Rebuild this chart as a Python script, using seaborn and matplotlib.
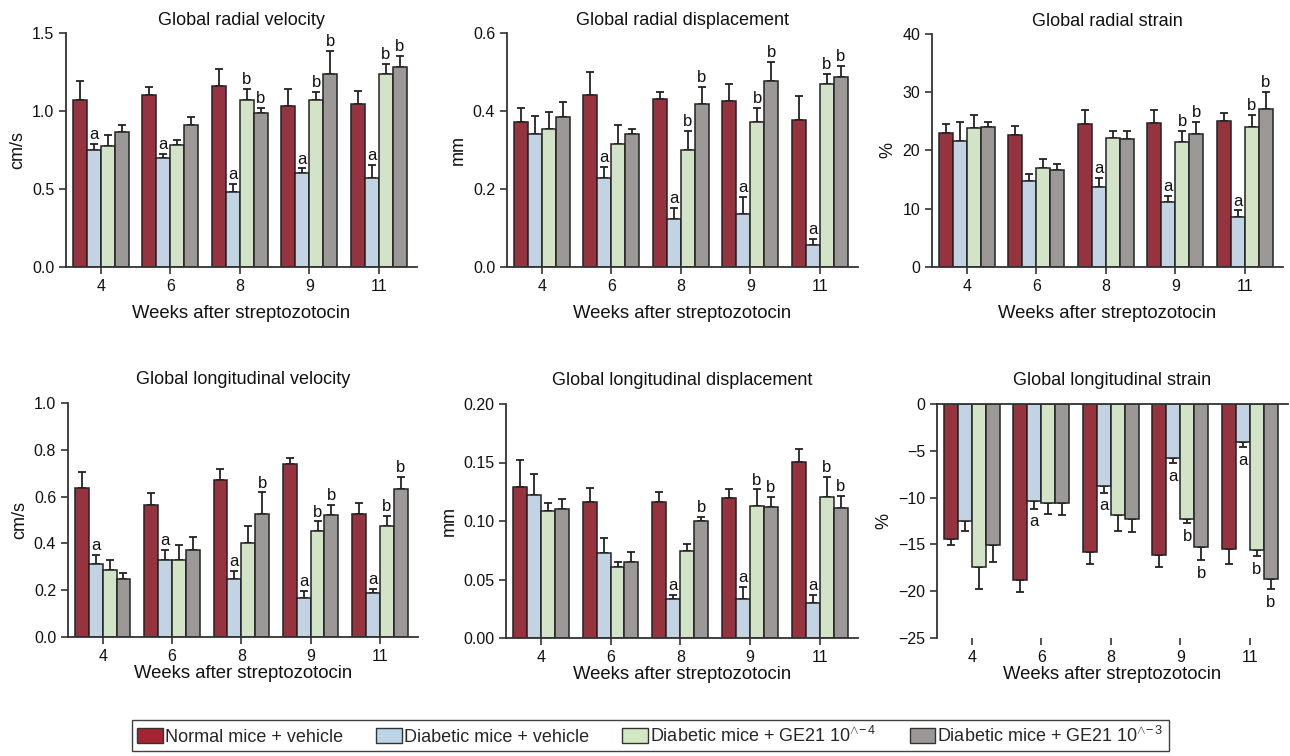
import numpy as np
import pandas as pd
import matplotlib
matplotlib.use("Agg")
import matplotlib.pyplot as plt
import seaborn as sns
from matplotlib.patches import Patch

sns.set_style("ticks")
plt.rcParams['font.family'] = ['Liberation Sans', 'DejaVu Sans']
plt.rcParams['mathtext.fontset'] = 'custom'
plt.rcParams['mathtext.rm'] = 'Liberation Sans'
plt.rcParams['mathtext.it'] = 'Liberation Sans'

weeks = ["4", "6", "8", "9", "11"]
groups = ["Normal mice + vehicle", "Diabetic mice + vehicle",
          "Diabetic mice + GE21 10^-4", "Diabetic mice + GE21 10^-3"]
legend_labels = ["Normal mice + vehicle", "Diabetic mice + vehicle",
                 r"Diabetic mice + GE21 10$^{\wedge\!-4}$", r"Diabetic mice + GE21 10$^{\wedge\!-3}$"]
colors = ["#A52432", "#BCD5E8", "#D2E8C2", "#9C9896"]

# ---- Global radial velocity (cm/s)
rv_mean = [[1.07, 1.10, 1.16, 1.035, 1.045],
           [0.75, 0.70, 0.48, 0.60, 0.57],
           [0.775, 0.785, 1.07, 1.07, 1.235],
           [0.865, 0.91, 0.99, 1.24, 1.28]]
rv_err = [[0.12, 0.055, 0.11, 0.105, 0.085],
          [0.04, 0.027, 0.053, 0.032, 0.087],
          [0.072, 0.032, 0.073, 0.05, 0.066],
          [0.045, 0.05, 0.03, 0.145, 0.075]]
rv_let = [["", "", "", "", ""], ["a", "a", "a", "a", "a"],
          ["", "", "b", "b", "b"], ["", "", "b", "b", "b"]]

# ---- Global radial displacement (mm)
rd_mean = [[0.373, 0.440, 0.431, 0.425, 0.378],
           [0.340, 0.228, 0.123, 0.135, 0.056],
           [0.355, 0.315, 0.300, 0.373, 0.468],
           [0.384, 0.342, 0.417, 0.476, 0.487]]
rd_err = [[0.034, 0.061, 0.019, 0.043, 0.060],
          [0.047, 0.029, 0.028, 0.045, 0.016],
          [0.042, 0.048, 0.049, 0.034, 0.026],
          [0.038, 0.013, 0.044, 0.049, 0.028]]
rd_let = [["", "", "", "", ""], ["", "a", "a", "a", "a"],
          ["", "", "b", "b", "b"], ["", "", "b", "b", "b"]]

# ---- Global radial strain (%)
rs_mean = [[23.0, 22.6, 24.5, 24.7, 25.0],
           [21.7, 14.7, 13.8, 11.1, 8.6],
           [23.9, 17.0, 22.1, 21.4, 24.0],
           [24.0, 16.6, 22.0, 22.9, 27.1]]
rs_err = [[1.6, 1.6, 2.4, 2.2, 1.5],
          [3.2, 1.3, 1.5, 1.1, 1.1],
          [2.2, 1.5, 1.2, 1.9, 2.1],
          [0.9, 1.0, 1.3, 2.0, 3.0]]
rs_let = [["", "", "", "", ""], ["", "", "a", "a", "a"],
          ["", "", "", "b", "b"], ["", "", "", "b", "b"]]

# ---- Global longitudinal velocity (cm/s)
lv_mean = [[0.635, 0.565, 0.672, 0.740, 0.527],
           [0.310, 0.327, 0.246, 0.166, 0.189],
           [0.286, 0.330, 0.402, 0.455, 0.476],
           [0.246, 0.371, 0.527, 0.523, 0.631]]
lv_err = [[0.07, 0.049, 0.047, 0.024, 0.045],
          [0.042, 0.044, 0.035, 0.029, 0.018],
          [0.044, 0.062, 0.072, 0.039, 0.041],
          [0.027, 0.058, 0.091, 0.041, 0.052]]
lv_let = [["", "", "", "", ""], ["a", "a", "a", "a", "a"],
          ["", "", "", "b", "b"], ["", "", "b", "b", "b"]]

# ---- Global longitudinal displacement (mm)
ld_mean = [[0.129, 0.1165, 0.1165, 0.120, 0.1507],
           [0.1225, 0.0724, 0.0333, 0.0333, 0.030],
           [0.1085, 0.061, 0.0744, 0.1128, 0.1202],
           [0.1103, 0.0652, 0.100, 0.1123, 0.1114]]
ld_err = [[0.023, 0.0114, 0.0085, 0.007, 0.0106],
          [0.018, 0.0131, 0.0037, 0.0103, 0.007],
          [0.0069, 0.0037, 0.0059, 0.0142, 0.0171],
          [0.0088, 0.008, 0.0037, 0.0085, 0.0103]]
ld_let = [["", "", "", "", ""], ["", "", "a", "a", "a"],
          ["", "", "", "b", "b"], ["", "", "b", "b", "b"]]

# ---- Global longitudinal strain (%)
ls_mean = [[-14.46, -18.77, -15.85, -16.13, -15.53],
           [-12.54, -10.36, -8.80, -5.73, -4.10],
           [-17.38, -10.54, -11.86, -12.25, -15.63],
           [-15.03, -10.54, -12.25, -15.28, -18.66]]
ls_err = [[0.64, 1.28, 1.21, 1.25, 1.53],
          [1.06, 0.82, 0.67, 0.61, 0.46],
          [2.38, 1.21, 1.71, 0.46, 0.64],
          [1.81, 1.36, 1.43, 1.35, 1.07]]
ls_let = [["", "", "", "", ""], ["", "a", "a", "a", "a"],
          ["", "", "", "b", "b"], ["", "", "", "b", "b"]]

panels = [
    dict(title="Global radial velocity", ylabel="cm/s", mean=rv_mean, err=rv_err, let=rv_let,
         ylim=(0, 1.5), ticks=[0, 0.5, 1.0, 1.5], fmt="{:.1f}",
         box=(66, 417, 33, 267), tpad=6, lpad=8),
    dict(title="Global radial displacement", ylabel="mm", mean=rd_mean, err=rd_err, let=rd_let,
         ylim=(0, 0.6), ticks=[0, 0.2, 0.4, 0.6], fmt="{:.1f}",
         box=(507, 858, 33, 267), tpad=6, lpad=8),
    dict(title="Global radial strain", ylabel="%", mean=rs_mean, err=rs_err, let=rs_let,
         ylim=(0, 40), ticks=[0, 10, 20, 30, 40], fmt="{:.0f}",
         box=(932, 1283, 34, 267), tpad=6, lpad=8),
    dict(title="Global longitudinal velocity", ylabel="cm/s", mean=lv_mean, err=lv_err, let=lv_let,
         ylim=(0, 1.0), ticks=[0, 0.2, 0.4, 0.6, 0.8, 1.0], fmt="{:.1f}",
         box=(68, 418, 403, 637), tpad=14, lpad=1),
    dict(title="Global longitudinal displacement", ylabel="mm", mean=ld_mean, err=ld_err, let=ld_let,
         ylim=(0, 0.20), ticks=[0, 0.05, 0.10, 0.15, 0.20], fmt="{:.2f}",
         box=(506, 858, 404, 638), tpad=14, lpad=1),
    dict(title="Global longitudinal strain", ylabel="%", mean=ls_mean, err=ls_err, let=ls_let,
         ylim=(-25, 0), ticks=[0, -5, -10, -15, -20, -25], fmt="{:.0f}",
         box=(937, 1288, 404, 638), tpad=14, lpad=1),
]

W, H = 1290, 756
fig = plt.figure(figsize=(W / 100, H / 100), dpi=100)
edge = "#222222"

for p in panels:
    l, r, t, b = p["box"]
    ax = fig.add_axes([l / W, (H - b) / H, (r - l) / W, (b - t) / H])
    rows = []
    for gi, g in enumerate(groups):
        for wi, w in enumerate(weeks):
            rows.append(dict(week=w, group=g, value=p["mean"][gi][wi],
                             err=p["err"][gi][wi], letter=p["let"][gi][wi]))
    df = pd.DataFrame(rows)
    sns.barplot(data=df, x="week", y="value", hue="group", order=weeks, hue_order=groups,
                palette=colors, errorbar=None, width=0.8, edgecolor=edge, linewidth=1.1,
                legend=False, ax=ax, zorder=2)
    bar_containers = list(ax.containers)
    span = p["ylim"][1] - p["ylim"][0]
    for gi, cont in enumerate(bar_containers):
        for wi, bar in enumerate(cont.patches):
            x = bar.get_x() + bar.get_width() / 2
            v = p["mean"][gi][wi]
            e = p["err"][gi][wi]
            neg = v < 0
            lo = [e] if neg else [0]
            hi = [0] if neg else [e]
            ax.errorbar([x], [v], yerr=[lo, hi], fmt="none", ecolor=edge,
                        elinewidth=1.3, capsize=3, capthick=1.3, zorder=1)
            let = p["let"][gi][wi]
            if let:
                if neg:
                    ax.text(x, v - e - 0.025 * span, let, ha="center", va="top",
                            fontsize=12, color="#111111")
                else:
                    ax.text(x, v + e + 0.008 * span, let, ha="center", va="bottom",
                            fontsize=12, color="#111111")
    ax.set_xlim(-0.5, 4.55)
    ax.set_ylim(*p["ylim"])
    ax.set_yticks(p["ticks"])
    ax.set_yticklabels([p["fmt"].format(v).replace("-", "\u2212") for v in p["ticks"]])
    ax.set_title(p["title"], fontsize=13, pad=p["tpad"], color="#111111")
    ax.set_xlabel("Weeks after streptozotocin", fontsize=13.3, labelpad=p["lpad"], color="#111111")
    ax.set_ylabel(p["ylabel"], fontsize=13, color="#111111", labelpad=4)
    ax.tick_params(axis="both", labelsize=11.5, length=5, width=1.2, colors="#333333",
                   labelcolor="#111111", direction="out")
    ax.spines["right"].set_visible(False)
    for s in ["left", "bottom", "top"]:
        ax.spines[s].set_color("#333333")
        ax.spines[s].set_linewidth(1.3)
    if p["ylim"][1] <= 0:
        ax.spines["bottom"].set_visible(False)
        ax.spines["top"].set_visible(True)
    else:
        ax.spines["top"].set_visible(False)

handles = [Patch(facecolor=c, edgecolor="#333333", linewidth=1.0) for c in colors]
leg = fig.legend(handles, legend_labels, loc="center", ncol=4,
                 bbox_to_anchor=((133 + 1168) / 2 / W, 1 - 735.5 / H),
                 fontsize=13, frameon=True, fancybox=False, handlelength=1.4,
                 handleheight=0.9, handletextpad=0.12, columnspacing=1.85,
                 borderpad=0.3, borderaxespad=0)
leg.get_frame().set_edgecolor("#111111")
leg.get_frame().set_linewidth(1.0)

fig.savefig("out.png", dpi=100)
